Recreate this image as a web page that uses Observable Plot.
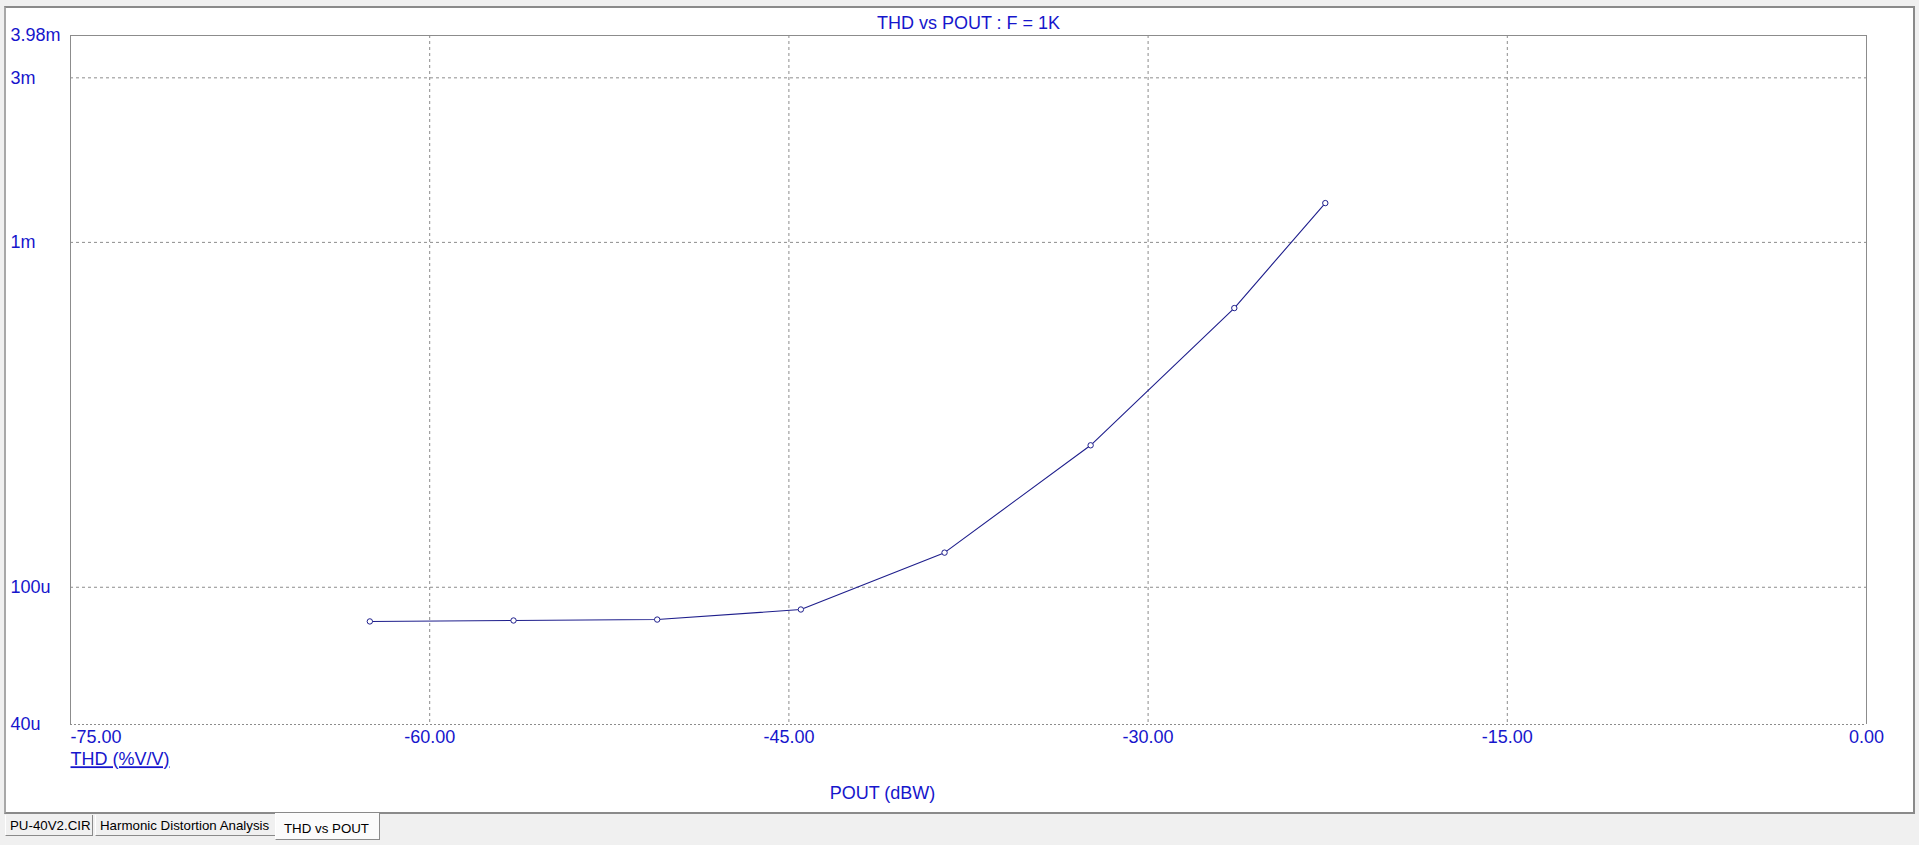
<!DOCTYPE html>
<html>
<head>
<meta charset="utf-8">
<script src="https://cdn.jsdelivr.net/npm/d3@7"></script>
<script src="https://cdn.jsdelivr.net/npm/@observablehq/plot@0.6"></script>
<style>
  html, body { margin: 0; padding: 0; }
  body { width: 1919px; height: 845px; background: #f0f0f0; position: relative; overflow: hidden; font-family: "Liberation Sans", Arial, sans-serif; }
  #panel { position: absolute; left: 4px; top: 6px; width: 1907px; height: 804px; background: #ffffff; border-top: 2px solid #8a8a8a; border-left: 2px solid #a8a8a8; border-right: 2px solid #8a8a8a; border-bottom: 2px solid #8a8a8a; }
  #chart { position: absolute; left: 0; top: 0; }
  .tab { position: absolute; top: 815px; height: 21px; background: #f0f0f0; border-left: 1px solid #ffffff; border-right: 1px solid #8a8a8a; border-bottom: 1px solid #8a8a8a; font-size: 13.3px; color: #000; line-height: 21px; box-sizing: border-box; padding-left: 4px; }
  .tab.sel { top: 813px; height: 27px; background: #fbfbfb; border-top: none; line-height: 31px; padding-left: 8px; }
</style>
</head>
<body>
<div id="panel"></div>
<div id="chart"></div>
<div class="tab" style="left:5px;width:88px;">PU-40V2.CIR</div>
<div class="tab" style="left:95px;width:181px;">Harmonic Distortion Analysis</div>
<div class="tab sel" style="left:275px;width:105px;">THD vs POUT</div>
<script>
// Data
const pout = [-62.5, -56.5, -50.5, -44.5, -38.5, -32.4, -26.4, -22.6];
const thd  = [79.6e-6, 80.1e-6, 80.6e-6, 86.2e-6, 126e-6, 258e-6, 645e-6, 1.30e-3];

const xTicks = [-75, -60, -45, -30, -15, 0];
const xTickLabels = ["-75.00", "-60.00", "-45.00", "-30.00", "-15.00", "0.00"];
const yTicks = [3.98e-3, 3e-3, 1e-3, 100e-6, 40e-6];
const yTickLabels = ["3.98m", "3m", "1m", "100u", "40u"];
const xGrid = [-60, -45, -30, -15];
const yGrid = [3e-3, 1e-3, 100e-6];

const titleText = "THD vs POUT : F = 1K";
const xLabel = "POUT (dBW)";
const yLabel = "THD (%V/V)";

const data = pout.map((p, i) => ({pout: p, thd: thd[i]}));
const blue = "#1616cc";
const lineColor = "#1e1e8c";
const gridColor = "#8c8c8c";

const chart = Plot.plot({
  width: 1919,
  height: 811,
  marginLeft: 70,
  marginRight: 53,
  marginTop: 35,
  marginBottom: 87,
  x: {domain: [-75, 0], axis: null},
  y: {type: "log", domain: [40e-6, 3.98e-3], axis: null},
  style: {background: "transparent", fontFamily: "'Liberation Sans', Arial, sans-serif", fontSize: "18px", overflow: "visible"},
  marks: [
    Plot.ruleX(xGrid, {x: d => d, stroke: gridColor, strokeDasharray: "3,3", strokeOpacity: 1}),
    Plot.ruleY(yGrid, {y: d => d, stroke: gridColor, strokeDasharray: "3,3", strokeOpacity: 1}),
    Plot.ruleX([xTicks[0], xTicks[xTicks.length - 1]], {x: d => d, stroke: gridColor, strokeOpacity: 1}),
    Plot.ruleY([yTicks[0]], {y: d => d, stroke: gridColor, strokeOpacity: 1}),
    Plot.ruleY([yTicks[yTicks.length - 1]], {y: d => d, stroke: gridColor, strokeDasharray: "2,2", strokeOpacity: 1}),
    Plot.line(data, {x: "pout", y: "thd", stroke: lineColor, strokeWidth: 1.1}),
    Plot.dot(data, {x: "pout", y: "thd", r: 2.7, stroke: lineColor, fill: "white", strokeWidth: 1}),
    // Y tick labels
    Plot.text(yTicks, {y: d => d, text: (d, i) => yTickLabels[i], frameAnchor: "left", dx: -60, textAnchor: "start", lineAnchor: "middle", fill: blue}),
    // X tick labels: first left-aligned, others centered
    Plot.text([xTicks[0]], {x: d => d, text: () => xTickLabels[0], frameAnchor: "bottom", dy: 13, textAnchor: "start", lineAnchor: "middle", fill: blue}),
    Plot.text(xTicks.slice(1), {x: d => d, text: (d, i) => xTickLabels[i + 1], frameAnchor: "bottom", dy: 13, textAnchor: "middle", lineAnchor: "middle", fill: blue}),
    // Axis labels
    Plot.text([yLabel], {text: d => d, frameAnchor: "bottom-left", dy: 35, textAnchor: "start", lineAnchor: "middle", fill: blue}),
    Plot.text([xLabel], {text: d => d, frameAnchor: "bottom", dx: -86, dy: 69, textAnchor: "middle", lineAnchor: "middle", fill: blue}),
    // Title
    Plot.text([titleText], {text: d => d, frameAnchor: "top", dy: -12, textAnchor: "middle", lineAnchor: "middle", fill: blue})
  ]
});

d3.select(chart).selectAll("text").filter(function() { return this.textContent === yLabel; })
  .style("text-decoration", "underline");

document.getElementById("chart").appendChild(chart);
</script>
</body>
</html>
